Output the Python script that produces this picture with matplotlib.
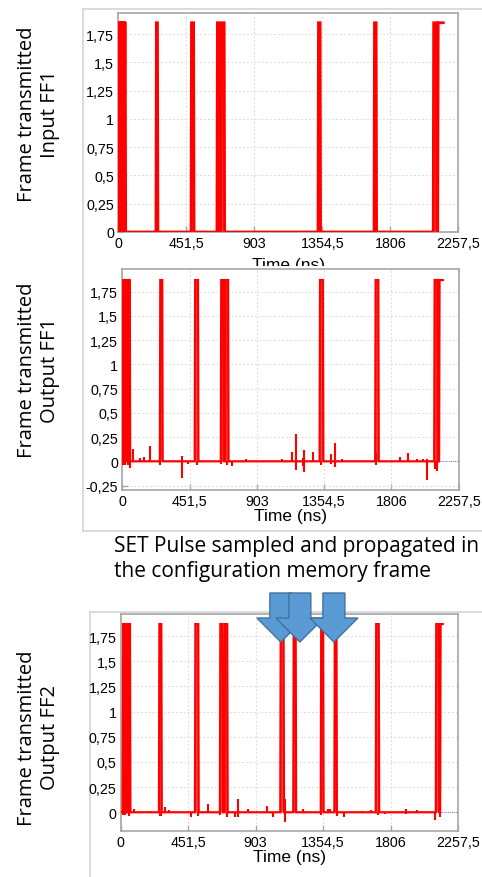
import matplotlib
matplotlib.use('Agg')
import matplotlib.pyplot as plt
from matplotlib.patches import Polygon, Rectangle
from matplotlib.lines import Line2D
from matplotlib.transforms import blended_transform_factory

# ---- data (ns, V) ----
x_ticks = [0, 451.5, 903, 1354.5, 1806, 2257.5]
x_tick_labels = ['0', '451,5', '903', '1354,5', '1806', '2257,5']
y_ticks = [0, 0.25, 0.5, 0.75, 1, 1.25, 1.5, 1.75]
y_tick_labels = ['0', '0,25', '0,5', '0,75', '1', '1,25', '1,5', '1,75']
y_ticks_neg = [-0.25] + y_ticks
y_tick_labels_neg = ['-0,25'] + y_tick_labels

# pulses (start, end); last pulse of each trace stays high until t_end
pulses_in1 = [(2, 10), (14, 24), (28, 36), (40, 46), (250, 260), (483, 500),
              (655, 668), (682, 703), (1326, 1340), (1698, 1712),
              (2091, 2112), (2121, None)]
t_end_in1 = 2158
level_in1 = 1.85

pulses_out1 = [(3, 12), (16, 26), (30, 38), (42, 50), (252, 268), (486, 508),
               (661, 678), (690, 710), (1324, 1346), (1697, 1718),
               (2093, 2114), (2126, None)]
t_end_out1 = 2152
level_out1 = 1.87

pulses_out2 = [(13, 22), (26, 36), (40, 50), (54, 62), (256, 272), (497, 519),
               (664, 682), (695, 713), (1068, 1090), (1155, 1171),
               (1339, 1355), (1430, 1444), (1707, 1727),
               (2109, 2129), (2138, None)]
t_end_out2 = 2155
level_out2 = 1.87

# glitches (t, low, high)
spikes_out1 = [(8, -0.04, 0), (20, -0.04, 0), (35, -0.04, 0), (49, -0.07, 0),
               (72, 0, 0.13), (116, 0, 0.03), (145, 0, 0.04), (183, 0, 0.16),
               (250, -0.04, 0), (400, -0.17, 0.05), (444, -0.03, 0),
               (500, -0.04, 0), (660, -0.03, 0), (700, -0.04, 0),
               (735, -0.05, 0), (831, 0, 0.02), (1074, 0, 0.02),
               (1137, 0, 0.10), (1163, -0.09, 0.28), (1212, -0.05, 0.03),
               (1220, -0.11, 0.12), (1282, 0, 0.10), (1335, -0.04, 0),
               (1400, -0.03, 0.08), (1427, -0.06, 0.19), (1472, 0, 0.02),
               (1700, -0.04, 0.09), (1862, 0, 0.04), (1918, 0, 0.09),
               (1978, 0, 0.02), (2019, 0, 0.02), (2048, -0.19, 0.02),
               (2100, -0.08, 0), (2114, -0.10, 0)]

spikes_out2 = [(15, -0.03, 0), (30, -0.03, 0), (58, -0.04, 0), (92, 0, 0.03),
               (196, 0, 0.01), (260, -0.04, 0), (272, -0.04, 0),
               (297, 0, 0.05), (324, 0, 0.02), (471, -0.05, 0),
               (517, -0.04, 0), (583, 0, 0.08), (664, -0.03, 0),
               (710, -0.05, 0), (762, -0.05, 0), (788, -0.05, 0.13),
               (853, 0, 0.03), (980, 0, 0.06), (1018, -0.05, 0),
               (1100, -0.10, 0.13), (1219, 0, 0.03), (1340, -0.03, 0),
               (1387, 0, 0.03), (1402, 0, 0.03), (1445, -0.04, 0),
               (1492, -0.05, 0), (1614, 0, 0.01), (1677, 0, 0.02),
               (1725, -0.03, 0), (1766, -0.02, 0), (1911, -0.02, 0.03),
               (1983, 0, 0.02), (2106, -0.08, 0), (2136, -0.05, 0)]

# SET arrows point at these times (ns)
arrow_times = [1072, 1199, 1427]

ylabels = ['Frame transmitted\nInput FF1', 'Frame transmitted\nOutput FF1',
           'Frame transmitted\nOutput FF2']
note = 'SET Pulse sampled and propagated in\nthe configuration memory frame'


def trace(pulses, t_end, level, edge=3):
    xs, ys = [0], [0]
    for s, e in pulses:
        if e is None:
            xs += [s, s + edge, t_end]
            ys += [0, level, level]
        else:
            xs += [s, s + edge, e, e + edge]
            ys += [0, level, level, 0]
    return xs, ys


W, H = 482, 878
fig = plt.figure(figsize=(W / 100, H / 100), dpi=100)
fig.patch.set_facecolor('white')


def px_axes(l, r, t, b):
    return fig.add_axes([l / W, 1 - b / H, (r - l) / W, (b - t) / H])


ax1 = px_axes(118.3, 458.3, 14, 233)
ax2 = px_axes(122.3, 458.7, 270, 491)
ax3 = px_axes(120.7, 458, 615, 832)
ax1.set_zorder(0)
ax2.set_zorder(2)
ax3.set_zorder(2)

setups = [
    (ax1, pulses_in1, t_end_in1, level_in1, [], (0, 1.936), y_ticks, y_tick_labels, 2.0, 5),
    (ax2, pulses_out1, t_end_out1, level_out1, spikes_out1, (-0.296, 1.984), y_ticks_neg, y_tick_labels_neg, 1.6, 0),
    (ax3, pulses_out2, t_end_out2, level_out2, spikes_out2, (-0.186, 1.97), y_ticks, y_tick_labels, 1.6, 0),
]

for ax, pulses, t_end, level, spikes, ylim, yt, ytl, lw, lpad in setups:
    if ax is not ax1:
        ax.axhline(0, color='#8080ff', lw=0.7, ls=(0, (1, 1)), zorder=1)
    xs, ys = trace(pulses, t_end, level)
    ax.plot(xs, ys, color='red', lw=lw, zorder=3, solid_joinstyle='miter')
    for s, e in pulses:
        if e is not None:
            ax.fill_between([s, e + 3], 0, level, color='#ff2a2a', alpha=0.85,
                            lw=0, zorder=2)
    for t, lo, hi in spikes:
        ax.vlines(t, lo, hi, color='red', lw=1.5, zorder=3)
    ax.set_xlim(0, 2257.5)
    ax.set_ylim(*ylim)
    ax.set_xticks(x_ticks)
    ax.set_xticklabels(x_tick_labels)
    ax.set_yticks(yt)
    ax.set_yticklabels(ytl)
    ax.grid(True, color='#dcdcdc', lw=0.7, ls=(0, (2, 2)))
    ax.set_axisbelow(True)
    for sp in ax.spines.values():
        sp.set_color('#a6a6a6')
        sp.set_linewidth(1.2)
    ax.tick_params(direction='in', length=4, color='#a6a6a6', width=1,
                   labelsize=10.3, labelcolor='black', pad=3)
    for lab in ax.get_xticklabels() + ax.get_yticklabels():
        lab.set_family('Liberation Sans')
    ax.set_xlabel('Time (ns)', fontsize=12.5, family='Liberation Sans', labelpad=lpad)

# white sheet for the second screenshot, covering the first one's label
fig.add_artist(Rectangle((83.5 / W, 1 - 532 / H), 1, (532 - 267) / H,
                         transform=fig.transFigure, facecolor='white',
                         edgecolor='none', zorder=1))

frame_kw = dict(color='#d4d4d4', lw=1.2, transform=fig.transFigure, zorder=1.5)
fig.add_artist(Line2D([83 / W, 1], [1 - 10 / H, 1 - 10 / H], **frame_kw))
fig.add_artist(Line2D([83 / W, 83 / W], [1 - 10 / H, 1 - 532 / H], **frame_kw))
fig.add_artist(Line2D([83 / W, 1], [1 - 532 / H, 1 - 532 / H], **frame_kw))
fig.add_artist(Line2D([90 / W, 1], [1 - 613 / H, 1 - 613 / H], **frame_kw))
fig.add_artist(Line2D([90 / W, 90 / W], [1 - 613 / H, 0], **frame_kw))

# rotated y labels
for text, yc in zip(ylabels, [114, 370, 738]):
    fig.text(39 / W, 1 - yc / H, text, rotation=90, ha='center', va='center',
             fontsize=14.5, family='Open Sans', linespacing=1.2, zorder=6)

fig.text(114 / W, 1 - 559.5 / H, note, ha='left', va='center', fontsize=15,
         family='Open Sans', linespacing=1.25, zorder=6)

# block arrows (time on x, screen pixels on y)
tr = blended_transform_factory(ax3.transData, fig.transFigure)
ns_per_px = 2257.5 / (458 - 120.7)
for i, t in enumerate(arrow_times):
    bw, hw = 11 * ns_per_px, 24 * ns_per_px
    y_top, y_neck, y_tip = 1 - 594 / H, 1 - 619 / H, 1 - 643 / H
    pts = [(t - bw, y_top), (t + bw, y_top), (t + bw, y_neck), (t + hw, y_neck),
           (t, y_tip), (t - hw, y_neck), (t - bw, y_neck)]
    fig.add_artist(Polygon(pts, closed=True, transform=tr, facecolor='#5b9bd5',
                           edgecolor='#41719c', lw=1.0, zorder=10 + i))

plt.savefig('out.png', dpi=100)
